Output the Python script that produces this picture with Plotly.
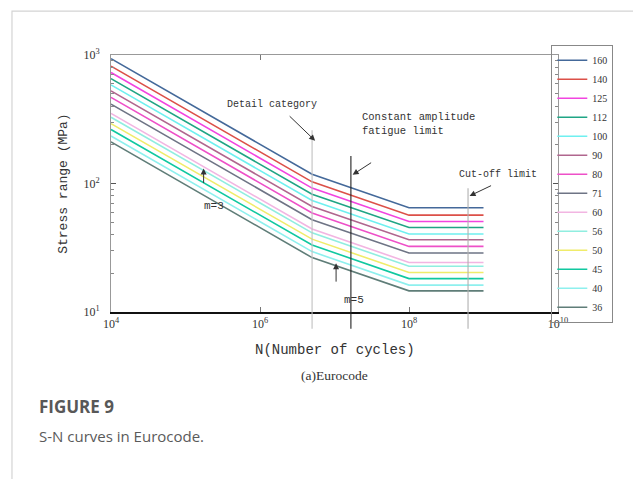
import numpy as np
import plotly.graph_objects as go

# ---- data ----
categories = ["160", "140", "125", "112", "100", "90", "80", "71", "60", "56", "50", "45", "40", "36"]
cycles = [1e4, 5e6, 1e8, 1e9]
s160 = [936, 118, 64.8, 64.8]
s140 = [819, 103, 56.7, 56.7]
s125 = [731, 92.1, 50.6, 50.6]
s112 = [655, 82.5, 45.4, 45.4]
s100 = [585, 73.7, 40.5, 40.5]
s90 = [526, 66.3, 36.5, 36.5]
s80 = [468, 59.0, 32.4, 32.4]
s71 = [415, 52.3, 28.8, 28.8]
s60 = [351, 44.2, 24.3, 24.3]
s56 = [328, 41.3, 22.7, 22.7]
s50 = [292, 36.9, 20.3, 20.3]
s45 = [263, 33.2, 18.2, 18.2]
s40 = [234, 29.5, 16.2, 16.2]
s36 = [211, 26.5, 14.6, 14.6]
series = [s160, s140, s125, s112, s100, s90, s80, s71, s60, s56, s50, s45, s40, s36]
colors = ["#44699a", "#dc5048", "#f244e0", "#1fa585", "#6ff0f0", "#b0668e", "#ee50c8",
          "#6e7485", "#f2b5e2", "#90eee0", "#f0ec6a", "#10c8a0", "#8ef0ee", "#5f7d78"]

x_ticks = [1e4, 1e6, 1e8, 1e10]
x_labels = ["10<sup>4</sup>", "10<sup>6</sup>", "10<sup>8</sup>", "10<sup>10</sup>"]
y_ticks = [10, 100, 1000]
y_labels = ["10<sup>1</sup>", "10<sup>2</sup>", "10<sup>3</sup>"]
y_minor = [20, 30, 40, 50, 60, 70, 80, 90, 200, 300, 400, 500, 600, 700, 800, 900]

# reference lines: (N, top stress, colour)
ref_lines = [(5e6, 260, "#c0c0c0"), (1.66e7, 164, "#222222"), (6.2e8, 92, "#b0b0b0")]

mono = "Liberation Mono"
serif = "Liberation Serif"

fig = go.Figure()
for name, ys, c in zip(categories, series, colors):
    fig.add_trace(go.Scatter(x=cycles, y=ys, mode="lines", name=name,
                             line=dict(color=c, width=1.6)))

# invisible trace on top axis for its tick
fig.add_trace(go.Scatter(x=[1e4], y=[10], xaxis="x2", mode="markers",
                         marker=dict(opacity=0), showlegend=False, hoverinfo="skip"))

shapes = []
for xv, top, c in ref_lines:
    shapes.append(dict(type="line", xref="x", yref="y", x0=xv, x1=xv, y0=10, y1=top,
                       line=dict(color=c, width=1.1)))
    shapes.append(dict(type="line", xref="x", yref="paper", x0=xv, x1=xv, y0=0, y1=-0.065,
                       line=dict(color=c, width=1.1)))
# figure frame
shapes.append(dict(type="rect", xref="paper", yref="paper", x0=-0.2215, x1=1.192,
                   y0=-0.70, y1=1.171, line=dict(color="#d4d4d4", width=1.2)))

L = np.log10
arrow = dict(xref="x", yref="y", text="", showarrow=True, arrowhead=2, arrowsize=1.2,
             arrowwidth=1, arrowcolor="#333")
annotations = [
    dict(x=L(1.45e6), y=L(410), xref="x", yref="y", text="Detail category", showarrow=False,
         font=dict(family=mono, size=10, color="#333")),
    dict(arrow, x=L(5.5e6), y=L(215), ax=-27, ay=-26),
    dict(x=L(2.2e7), y=L(290), xref="x", yref="y", xanchor="left",
         text="Constant amplitude<br>fatigue limit", showarrow=False, align="left",
         font=dict(family=mono, size=10.5, color="#333")),
    dict(arrow, x=L(1.75e7), y=L(117), ax=20, ay=-13),
    dict(x=L(1.55e9), y=L(118), xref="x", yref="y", text="Cut-off limit", showarrow=False,
         font=dict(family=mono, size=10, color="#333")),
    dict(arrow, x=L(6.5e8), y=L(80), ax=23, ay=-11),
    dict(arrow, x=L(1.75e5), y=L(131), ax=0, ay=16),
    dict(x=L(2.4e5), y=L(67), xref="x", yref="y", text="m=3", showarrow=False,
         font=dict(family=mono, size=11, color="#333")),
    dict(arrow, x=L(1.05e7), y=L(24), ax=0, ay=20),
    dict(x=L(1.8e7), y=L(12.4), xref="x", yref="y", text="m=5", showarrow=False,
         font=dict(family=mono, size=11, color="#333")),
    dict(x=0.5, y=-0.185, xref="paper", yref="paper", text="N(Number of cycles)", showarrow=False,
         font=dict(family=mono, size=14, color="#333")),
    dict(x=-0.128, y=0.5, xref="paper", yref="paper", text="Stress range (MPa)", showarrow=False,
         textangle=-90, font=dict(family=mono, size=13, color="#333")),
    dict(x=0.5, y=-0.285, xref="paper", yref="paper", text="(a)Eurocode", showarrow=False,
         font=dict(family=serif, size=13.5, color="#333")),
    dict(x=-0.165, y=-0.42, xref="paper", yref="paper", xanchor="left", text="<b>FIGURE 9</b>",
         showarrow=False, font=dict(family="Open Sans", size=17, color="#585858")),
    dict(x=-0.165, y=-0.53, xref="paper", yref="paper", xanchor="left",
         text="S-N curves in Eurocode.", showarrow=False,
         font=dict(family="Open Sans", size=15, color="#5a5a5a")),
]

fig.update_layout(
    width=641, height=479,
    margin=dict(l=103, r=91, t=47, b=175),
    paper_bgcolor="white", plot_bgcolor="white",
    showlegend=True,
    legend=dict(x=0.985, xanchor="left", y=1.04, yanchor="top", bordercolor="#888",
                borderwidth=1, font=dict(family=serif, size=10, color="#333"),
                bgcolor="rgba(255,255,255,0)", tracegroupgap=0, maxheight=320, itemwidth=30),
    xaxis=dict(type="log", range=[4, 10], tickvals=x_ticks, ticktext=x_labels,
               showgrid=False, zeroline=False, showline=True, linecolor="#111", linewidth=2,
               ticks="inside", ticklen=5, tickcolor="#777",
               tickfont=dict(family=serif, size=12, color="#333")),
    xaxis2=dict(type="log", range=[4, 10], overlaying="x", side="top", tickvals=[1e6],
                showticklabels=False, showgrid=False, showline=True, linecolor="#999",
                linewidth=1, ticks="inside", ticklen=5, tickcolor="#777"),
    yaxis=dict(type="log", range=[1, 3], tickvals=y_ticks, ticktext=y_labels,
               showgrid=False, zeroline=False, showline=True, linecolor="#999", linewidth=1,
               mirror="ticks", ticks="inside", ticklen=5, tickcolor="#555", ticklabelstandoff=8,
               minor=dict(tickvals=y_minor, ticks="inside", ticklen=3, tickcolor="#888"),
               tickfont=dict(family=serif, size=12, color="#333")),
    shapes=shapes,
    annotations=annotations,
)

fig.write_html("out.html")
